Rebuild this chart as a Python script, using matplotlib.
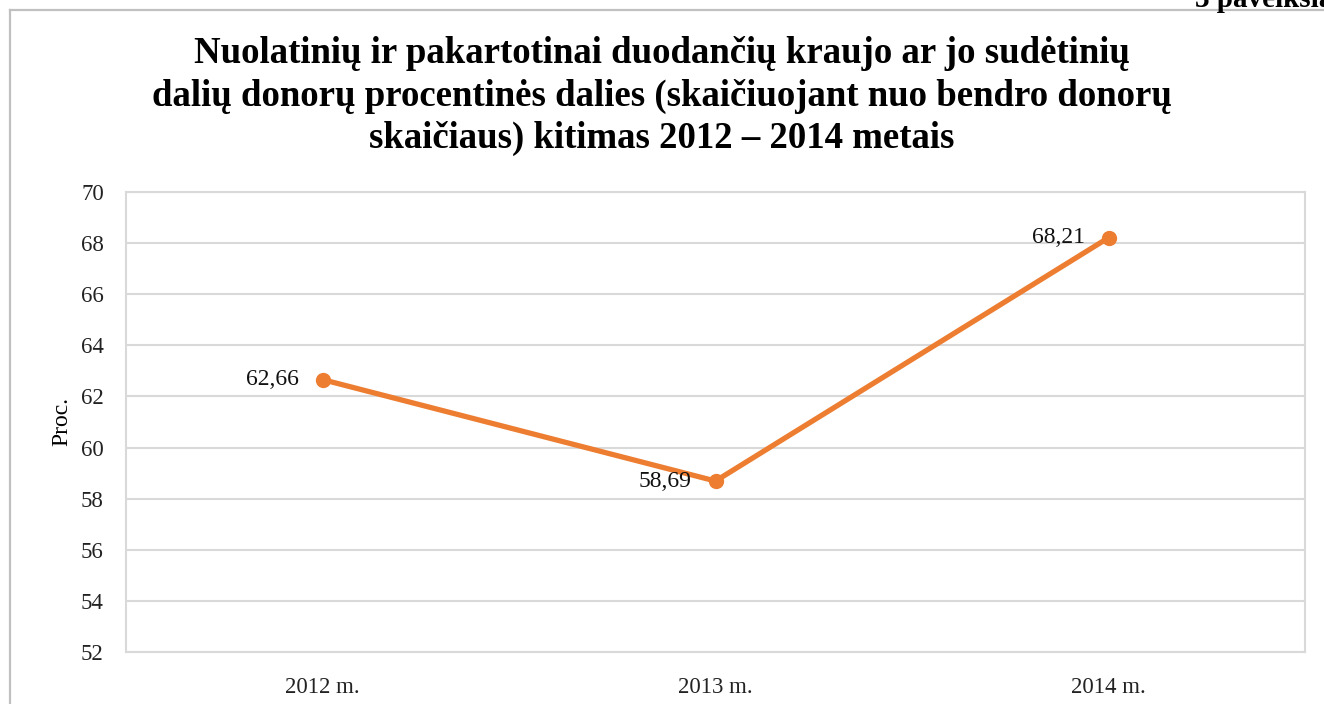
import matplotlib.pyplot as plt
from matplotlib.lines import Line2D

years = ['2012 m.', '2013 m.', '2014 m.']
values = [62.66, 58.69, 68.21]
value_labels = ['62,66', '58,69', '68,21']
y_ticks = [52, 54, 56, 58, 60, 62, 64, 66, 68, 70]

plt.rcParams['font.family'] = ['Liberation Serif', 'DejaVu Serif']

W, H = 1324, 704
fig = plt.figure(figsize=(W / 100, H / 100), dpi=100)
ax = fig.add_axes([126 / W, 1 - 652 / H, (1305 - 126) / W, (652 - 192) / H])

x = list(range(len(years)))
ax.plot(x, values, color='#ED7D31', lw=3.8, marker='o', ms=10, zorder=3)
for xi, v, lab in zip(x, values, value_labels):
    ax.annotate(lab, (xi, v), xytext=(-17, 0), textcoords='offset points',
                ha='right', va='center', fontsize=17, color='#111111')

ax.set_xlim(-0.5, 2.5)
ax.set_ylim(52, 70)
ax.set_yticks(y_ticks)
ax.set_xticks(x)
ax.set_xticklabels(years)
ax.tick_params(length=0, labelsize=16.5, colors='#222222')
ax.tick_params(axis='y', pad=16)
ax.tick_params(axis='x', pad=18)
ax.grid(axis='y', color='#d9d9d9', lw=1.5)
for s in ax.spines.values():
    s.set_color('#d9d9d9')
    s.set_linewidth(1.5)
ax.set_ylabel('Proc.', fontsize=17)
ax.yaxis.set_label_coords(-54 / (1305 - 126), 0.5)

fig.text(0.5, 1 - 96 / H,
         'Nuolatinių ir pakartotinai duodančių kraujo ar jo sudėtinių\n'
         'dalių donorų procentinės dalies (skaičiuojant nuo bendro donorų\n'
         'skaičiaus) kitimas 2012 – 2014 metais',
         ha='center', va='center', fontsize=26.5, fontweight='bold',
         linespacing=1.26)

# page fragments: outer frame and cut-off caption
fig.add_artist(Line2D([10 / W, 10 / W], [0, 1 - 10 / H], color='#c0c0c0', lw=1.6))
fig.add_artist(Line2D([10 / W, 1], [1 - 10 / H, 1 - 10 / H], color='#c0c0c0', lw=1.6))
fig.text(1345 / W, 1 - 7 / H, '3 paveikslas', ha='right', va='baseline',
         fontsize=21, fontweight='bold')

fig.savefig('out.png', dpi=100)
